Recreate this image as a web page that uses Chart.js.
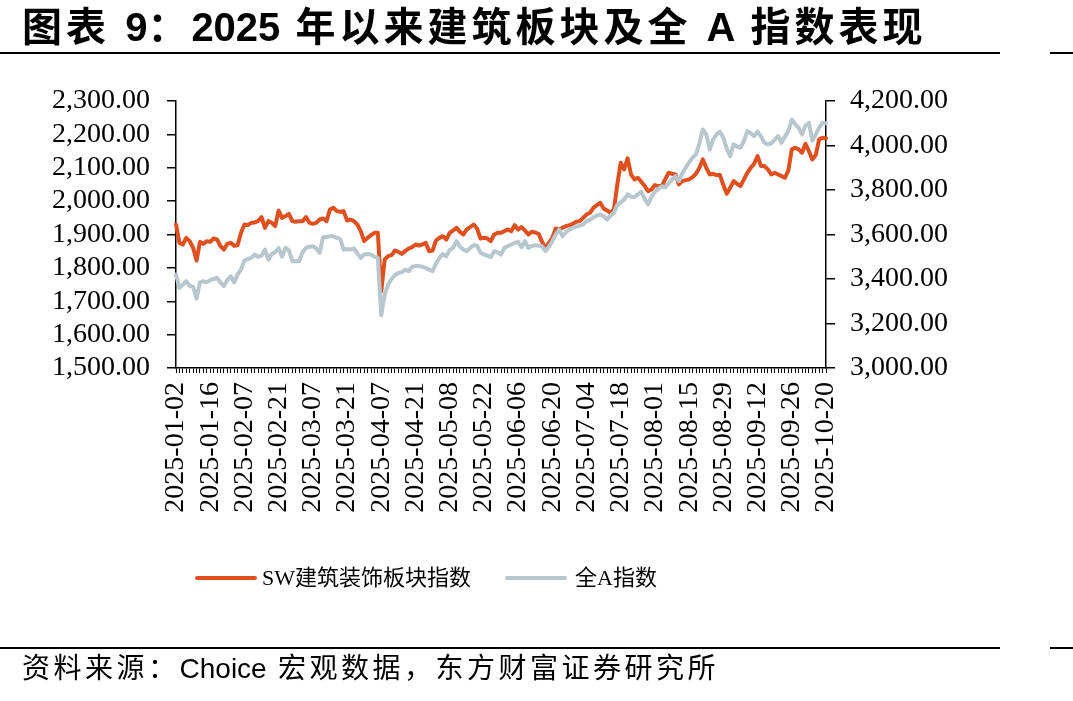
<!DOCTYPE html>
<html>
<head>
<meta charset="utf-8">
<script src="https://cdn.jsdelivr.net/npm/chart.js@4/dist/chart.umd.min.js"></script>
<style>
  html, body { margin:0; padding:0; background:#fff; }
  body { width:1073px; height:701px; position:relative; overflow:hidden; }
  #c { position:absolute; left:0; top:0; }
  .title { position:absolute; left:22px; top:4px; font-family:"Liberation Sans","Noto Sans CJK SC",sans-serif; font-weight:700; font-size:40px; letter-spacing:4px; color:#000; white-space:nowrap; line-height:46px; }
  .rule { position:absolute; height:2px; background:#000; }
  .foot { position:absolute; left:22px; top:652px; font-family:"Liberation Sans","Noto Sans CJK SC",sans-serif; font-size:28px; letter-spacing:3.5px; color:#000; white-space:nowrap; line-height:34px; }
  .lat { letter-spacing:0; }
  .leg { position:absolute; top:563px; font-family:"Liberation Serif","Noto Sans CJK SC",serif; font-size:22px; color:#000; white-space:nowrap; line-height:30px; }
  .legline { position:absolute; height:4px; top:576px; border-radius:2px; }
</style>
</head>
<body>
<canvas id="c" width="1073" height="701"></canvas>
<div class="title">图表 <span class="lat">9</span>：<span class="lat">2025</span> 年以来建筑板块及全 <span class="lat">A</span> 指数表现</div>
<div class="rule" style="left:0;top:52px;width:1000px;"></div>
<div class="rule" style="left:1050px;top:52px;width:23px;"></div>
<div class="rule" style="left:0;top:647px;width:1000px;"></div>
<div class="rule" style="left:1050px;top:647px;width:23px;"></div>
<div class="legline" style="left:195px;width:62px;background:#E0501E;"></div>
<div class="leg" id="leg1" style="left:262px;"></div>
<div class="legline" style="left:505px;width:62px;background:#B8C6CD;"></div>
<div class="leg" id="leg2" style="left:575px;"></div>
<div class="foot">资料来源：<span class="lat">Choice</span> 宏观数据，东方财富证券研究所</div>
<script>
const seriesNames = ["SW建筑装饰板块指数", "全A指数"];

const dates = [
"2025-01-02","2025-01-03","2025-01-06","2025-01-07","2025-01-08","2025-01-09","2025-01-10","2025-01-13","2025-01-14","2025-01-15",
"2025-01-16","2025-01-17","2025-01-20","2025-01-21","2025-01-22","2025-01-23","2025-01-24","2025-01-27",
"2025-02-05","2025-02-06","2025-02-07","2025-02-10","2025-02-11","2025-02-12","2025-02-13","2025-02-14","2025-02-17","2025-02-18",
"2025-02-19","2025-02-20","2025-02-21","2025-02-24","2025-02-25","2025-02-26","2025-02-27","2025-02-28",
"2025-03-03","2025-03-04","2025-03-05","2025-03-06","2025-03-07","2025-03-10","2025-03-11","2025-03-12","2025-03-13","2025-03-14",
"2025-03-17","2025-03-18","2025-03-19","2025-03-20","2025-03-21","2025-03-24","2025-03-25","2025-03-26","2025-03-27","2025-03-28","2025-03-31",
"2025-04-01","2025-04-02","2025-04-03","2025-04-07","2025-04-08","2025-04-09","2025-04-10","2025-04-11","2025-04-14","2025-04-15",
"2025-04-16","2025-04-17","2025-04-18","2025-04-21","2025-04-22","2025-04-23","2025-04-24","2025-04-25","2025-04-28","2025-04-29","2025-04-30",
"2025-05-06","2025-05-07","2025-05-08","2025-05-09","2025-05-12","2025-05-13","2025-05-14","2025-05-15","2025-05-16","2025-05-19",
"2025-05-20","2025-05-21","2025-05-22","2025-05-23","2025-05-26","2025-05-27","2025-05-28","2025-05-29","2025-05-30",
"2025-06-03","2025-06-04","2025-06-05","2025-06-06","2025-06-09","2025-06-10","2025-06-11","2025-06-12","2025-06-13","2025-06-16",
"2025-06-17","2025-06-18","2025-06-19","2025-06-20","2025-06-23","2025-06-24","2025-06-25","2025-06-26","2025-06-27","2025-06-30",
"2025-07-01","2025-07-02","2025-07-03","2025-07-04","2025-07-07","2025-07-08","2025-07-09","2025-07-10","2025-07-11","2025-07-14",
"2025-07-15","2025-07-16","2025-07-17","2025-07-18","2025-07-21","2025-07-22","2025-07-23","2025-07-24","2025-07-25","2025-07-28",
"2025-07-29","2025-07-30","2025-07-31",
"2025-08-01","2025-08-04","2025-08-05","2025-08-06","2025-08-07","2025-08-08","2025-08-11","2025-08-12","2025-08-13","2025-08-14",
"2025-08-15","2025-08-18","2025-08-19","2025-08-20","2025-08-21","2025-08-22","2025-08-25","2025-08-26","2025-08-27","2025-08-28","2025-08-29",
"2025-09-01","2025-09-02","2025-09-03","2025-09-04","2025-09-05","2025-09-08","2025-09-09","2025-09-10","2025-09-11","2025-09-12",
"2025-09-15","2025-09-16","2025-09-17","2025-09-18","2025-09-19","2025-09-22","2025-09-23","2025-09-24","2025-09-25","2025-09-26",
"2025-09-29","2025-09-30",
"2025-10-09","2025-10-10","2025-10-13","2025-10-14","2025-10-15","2025-10-16","2025-10-17","2025-10-20"
];

const tickLabels = ["2025-01-02","2025-01-16","2025-02-07","2025-02-21","2025-03-07","2025-03-21","2025-04-07","2025-04-21",
"2025-05-08","2025-05-22","2025-06-06","2025-06-20","2025-07-04","2025-07-18","2025-08-01","2025-08-15","2025-08-29",
"2025-09-12","2025-09-26","2025-10-20"];

const swBuild = [
1930,1875,1870,1890,1880,1860,1822,1878,1872,1880,
1878,1888,1885,1865,1855,1872,1875,1866,1868,1905,
1930,1928,1935,1936,1940,1952,1920,1940,1935,1925,
1972,1950,1955,1962,1940,1938,1940,1940,1952,1935,
1932,1935,1945,1948,1940,1975,1980,1970,1968,1970,
1942,1945,1940,1930,1910,1880,1890,1898,1905,1905,
1730,1825,1835,1838,1852,1848,1842,1850,1858,1862,
1870,1867,1870,1875,1850,1852,1882,1890,1895,1885,
1905,1912,1920,1908,1900,1915,1922,1930,1918,1888,
1890,1888,1880,1900,1905,1905,1910,1915,1910,1928,
1915,1922,1912,1900,1908,1906,1902,1878,1858,1875,
1890,1918,1915,1920,1925,1928,1932,1938,1940,1950,
1960,1965,1980,1988,1995,1978,1972,1965,1975,2050,
2115,2095,2128,2080,2065,2070,2058,2045,2030,2035,
2048,2045,2045,2065,2085,2082,2080,2050,2060,2063,
2065,2072,2082,2100,2125,2100,2080,2082,2078,2078,
2048,2022,2040,2060,2052,2045,2065,2085,2100,2112,
2135,2105,2105,2095,2080,2085,2080,2075,2070,2092,
2155,2160,2155,2145,2172,2150,2125,2138,2185,2190,
2188
];

const allA = [
3420,3360,3375,3390,3370,3365,3312,3385,3390,3385,
3395,3400,3405,3385,3368,3395,3412,3385,3420,3442,
3483,3490,3495,3510,3500,3505,3532,3487,3512,3520,
3540,3500,3540,3530,3480,3480,3480,3520,3540,3545,
3547,3537,3518,3588,3588,3592,3592,3585,3580,3532,
3535,3532,3537,3515,3495,3510,3512,3510,3500,3495,
3237,3330,3375,3400,3417,3427,3430,3442,3435,3455,
3458,3458,3455,3450,3442,3435,3470,3495,3512,3502,
3530,3540,3570,3545,3532,3525,3540,3552,3550,3518,
3510,3505,3498,3525,3520,3510,3540,3548,3555,3562,
3567,3543,3570,3540,3548,3552,3550,3547,3525,3545,
3570,3600,3622,3592,3610,3622,3630,3635,3640,3645,
3660,3667,3677,3685,3690,3682,3667,3685,3697,3732,
3745,3757,3780,3770,3768,3780,3792,3760,3735,3770,
3792,3805,3817,3812,3830,3847,3862,3840,3875,3900,
3925,3945,3960,4010,4072,4050,3982,4027,4050,4062,
4035,3985,3952,4005,3995,3990,4020,4065,4055,4042,
4062,4040,4012,4005,4010,4025,4042,4012,4040,4065,
4117,4095,4080,4050,4090,4102,4022,4050,4080,4102,
4100
];

const leftTicks = [1500, 2300, 100];
const rightTicks = [3000, 4200, 200];

document.getElementById('leg1').textContent = seriesNames[0];
document.getElementById('leg2').textContent = seriesNames[1];

const fmt = v => Number(v).toLocaleString('en-US', {minimumFractionDigits:2, maximumFractionDigits:2});
const tickFont = {family:'"Liberation Serif", "Times New Roman", serif', size:28};

new Chart(document.getElementById('c'), {
  type: 'line',
  data: {
    labels: dates,
    datasets: [
      { label: seriesNames[0], data: swBuild, yAxisID: 'y', borderColor: '#E0501E', backgroundColor: '#E0501E',
        borderWidth: 4, pointRadius: 0, tension: 0, order: 1, borderJoinStyle: 'round', borderCapStyle: 'round' },
      { label: seriesNames[1], data: allA, yAxisID: 'y1', borderColor: '#B8C6CD', backgroundColor: '#B8C6CD',
        borderWidth: 4, pointRadius: 0, tension: 0, order: 0, borderJoinStyle: 'round', borderCapStyle: 'round' }
    ]
  },
  options: {
    responsive: false,
    animation: false,
    devicePixelRatio: 1,
    layout: { padding: { top: 101, left: 0, right: 0, bottom: 163 } },
    plugins: { legend: { display: false }, tooltip: { enabled: false }, title: { display: false } },
    scales: {
      x: {
        type: 'category',
        offset: false,
        grid: { drawOnChartArea: false, drawTicks: true, tickLength: 5, color: '#000', lineWidth: 1 },
        border: { display: true, color: '#000', width: 1.5 },
        ticks: {
          autoSkip: false, maxRotation: 90, minRotation: 90, padding: 9, color: '#000', font: tickFont,
          callback: function(v, i) { const l = dates[i]; return tickLabels.includes(l) ? l : ''; }
        },
        afterFit: s => { s.height = 170; }
      },
      y: {
        position: 'left', min: leftTicks[0], max: leftTicks[1],
        grid: { drawOnChartArea: false, drawTicks: true, tickLength: 9, color: '#000', lineWidth: 1.5 },
        border: { display: true, color: '#000', width: 1.5 },
        ticks: { stepSize: leftTicks[2], autoSkip: false, padding: 17, color: '#000', font: tickFont, callback: v => fmt(v) },
        afterFit: s => { s.width = 176; }
      },
      y1: {
        position: 'right', min: rightTicks[0], max: rightTicks[1],
        grid: { drawOnChartArea: false, drawTicks: true, tickLength: 9, color: '#000', lineWidth: 1.5 },
        border: { display: true, color: '#000', width: 1.5 },
        ticks: { stepSize: rightTicks[2], autoSkip: false, padding: 15, color: '#000', font: tickFont, callback: v => fmt(v) },
        afterFit: s => { s.width = 247; }
      }
    }
  }
});
</script>
</body>
</html>
